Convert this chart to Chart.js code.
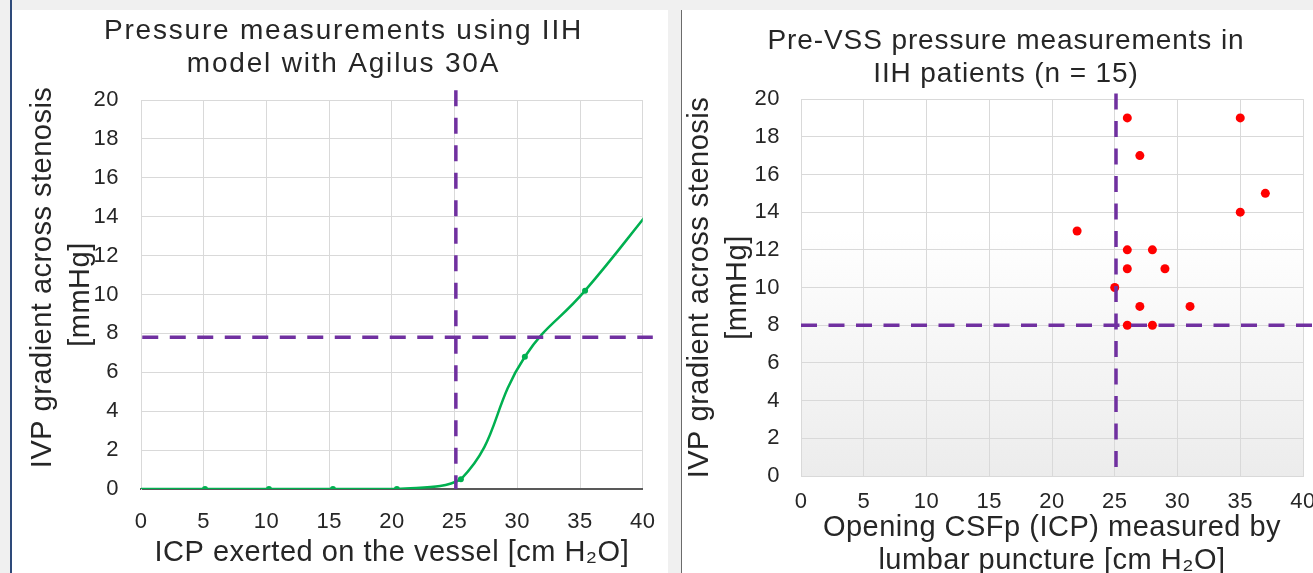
<!DOCTYPE html>
<html>
<head>
<meta charset="utf-8">
<script src="https://cdn.jsdelivr.net/npm/chart.js@4.4.1/dist/chart.umd.min.js"></script>
<style>
html, body { margin: 0; padding: 0; }
body { width: 1313px; height: 573px; overflow: hidden; background: #f0f0f0; position: relative; }
#edge { position: absolute; left: 10px; top: 0; width: 2px; height: 573px; background: #2e4a7a; }
#panelLeft { position: absolute; left: 12px; top: 10px; width: 656px; height: 563px; background: #fff; }
#sep { position: absolute; left: 681px; top: 10px; width: 1px; height: 563px; background: #6b6b6b; }
#panelRight { position: absolute; left: 682px; top: 10px; width: 631px; height: 563px; background: #fff; }
canvas { position: absolute; }
#chartModel { left: 12px; top: 10px; }
#chartPatients { left: 681px; top: 10px; }
</style>
</head>
<body>
<div id="edge"></div>
<div id="panelLeft"></div>
<div id="sep"></div>
<div id="panelRight"></div>
<canvas id="chartModel" width="663" height="563"></canvas>
<canvas id="chartPatients" width="650" height="570"></canvas>
<script>
// axis ticks (both charts)
const icpTicks = [0, 5, 10, 15, 20, 25, 30, 35, 40];
const gradientTicks = [0, 2, 4, 6, 8, 10, 12, 14, 16, 18, 20];

// IIH model with Agilus 30A
const modelIcp = [0, 5.1, 10.2, 15.3, 20.4, 25.5, 30.6, 35.4, 40.8];
const modelGradient = [0, 0, 0, 0, 0, 0.5, 6.8, 10.2, 14.5];
const modelIcpLimit = [25.1, 25.1];
const modelIcpLimitSpan = [20.5, 0];
const modelGradientLimit = [7.8, 7.8];
const modelGradientLimitSpan = [0.1, 40.8];

// pre-VSS patients (n = 15)
const patientIcp = [26, 35, 27, 37, 35, 22, 26, 28, 26, 29, 25, 27, 31, 26, 28];
const patientGradient = [19, 19, 17, 15, 14, 13, 12, 12, 11, 11, 10, 9, 9, 8, 8];
const patientIcpLimit = [25.1, 25.1];
const patientIcpLimitSpan = [20.3, 0.4];
const patientGradientLimit = [8, 8];
const patientGradientLimitSpan = [0, 41.2];

Chart.defaults.font.family = '"Liberation Sans", Arial, sans-serif';

var textColor = "#262626";
var gridColor = "#d9d9d9";
var limitColor = "#7030a0";

function zip(xs, ys)
{
	return xs.map(function(x, i) { return { x: x, y: ys[i] }; });
}

function limitLine(points)
{
	return {
		type: "line",
		data: points,
		borderColor: limitColor,
		borderWidth: 3.5,
		borderDash: [16, 11.5],
		pointRadius: 0,
		fill: false,
		clip: false,
		yAxisID: "y"
	};
}

// the original text is a little wider than Liberation Sans, so space it out
var textSpacing = {
	id: "textSpacing",
	afterInit: function(chart, args, opts)
	{
		var block = chart.titleBlock;
		var draw = block.draw;
		block.draw = function()
		{
			chart.ctx.letterSpacing = opts.title + "px";
			draw.apply(this, arguments);
			chart.ctx.letterSpacing = opts.text + "px";
		};
	},
	beforeDraw: function(chart, args, opts)
	{
		chart.ctx.letterSpacing = opts.text + "px";
	}
};

function buildOptions(cfg)
{
	return {
		responsive: false,
		animation: false,
		events: [],
		layout: { padding: 0 },
		plugins: {
			legend: { display: false },
			tooltip: { enabled: false },
			textSpacing: { text: 0.5, title: cfg.titleSpacing },
			title: {
				display: true,
				text: cfg.title,
				color: textColor,
				font: { size: 28, weight: "normal", lineHeight: 1.18 },
				padding: { top: cfg.titleTop, bottom: cfg.titleBottom }
			}
		},
		scales: {
			x: {
				type: "linear",
				min: 0,
				max: 40,
				afterBuildTicks: function(scale) { scale.ticks = icpTicks.map(function(v) { return { value: v }; }); },
				afterFit: function(scale) { scale.height = cfg.xHeight; },
				ticks: { autoSkip: false, maxRotation: 0, padding: cfg.xTickPad, color: textColor, font: { size: 22 } },
				grid: { color: gridColor, drawTicks: false },
				border: { color: cfg.xBorder, width: cfg.xBorderWidth },
				title: {
					display: true,
					text: cfg.xTitle,
					color: textColor,
					font: { size: 29, lineHeight: cfg.xTitleLine },
					padding: { top: 0, bottom: cfg.xTitleBottom }
				}
			},
			y: {
				type: "linear",
				position: "left",
				min: 0,
				max: 20,
				afterBuildTicks: function(scale) { scale.ticks = gradientTicks.map(function(v) { return { value: v }; }); },
				afterFit: function(scale) { scale.width = cfg.yWidth; },
				ticks: { autoSkip: false, padding: cfg.yTickPad, color: textColor, font: { size: 22 } },
				grid: { color: gridColor, drawTicks: false },
				border: { color: gridColor, width: 1 },
				title: {
					display: true,
					text: cfg.yTitle,
					color: textColor,
					font: { size: 29, lineHeight: 1.31 },
					padding: { top: cfg.yTitleTop, bottom: 0 }
				}
			},
			spare: {
				type: "linear",
				position: "right",
				display: true,
				ticks: { display: false },
				grid: { display: false },
				border: { display: false },
				afterFit: function(scale) { scale.width = cfg.rightGap; }
			}
		}
	};
}

var plotShade = {
	id: "plotShade",
	beforeDraw: function(chart)
	{
		var a = chart.chartArea;
		var ctx = chart.ctx;
		var g = ctx.createLinearGradient(0, a.top, 0, a.bottom);
		g.addColorStop(0, "#ffffff");
		g.addColorStop(0.35, "#ffffff");
		g.addColorStop(1, "#ececec");
		ctx.save();
		ctx.fillStyle = g;
		ctx.fillRect(a.left, a.top, a.right - a.left, a.bottom - a.top);
		ctx.restore();
	}
};

new Chart(document.getElementById("chartModel"), {
	type: "line",
	data: {
		datasets: [
			limitLine(zip(modelIcpLimit, modelIcpLimitSpan)),
			limitLine(zip(modelGradientLimitSpan, modelGradientLimit)),
			{
				type: "line",
				data: zip(modelIcp, modelGradient),
				borderColor: "#00b050",
				borderWidth: 2.5,
				backgroundColor: "#00b050",
				pointBackgroundColor: "#00b050",
				pointBorderWidth: 0,
				pointRadius: function(c) { var x = c.raw ? c.raw.x : 0; return (x <= 0 || x > 40) ? 0 : 3; },
				tension: 0.45,
				fill: false,
				yAxisID: "y"
			}
		]
	},
	options: buildOptions({
		title: ["Pressure measurements using IIH", "model with Agilus 30A"],
		titleSpacing: 1.8,
		titleTop: 4.5,
		titleBottom: 19.5,
		xTitle: "ICP exerted on the vessel [cm H\u2082O]",
		xTitleLine: 1.2,
		xTitleBottom: 2.6,
		xHeight: 84,
		xTickPad: 20,
		xBorder: "#595959",
		xBorderWidth: 2,
		yTitle: ["    IVP gradient across stenosis", "[mmHg]"],
		yWidth: 129,
		yTickPad: 22,
		yTitleTop: 12,
		rightGap: 32
	}),
	plugins: [textSpacing]
});

new Chart(document.getElementById("chartPatients"), {
	type: "scatter",
	data: {
		datasets: [
			limitLine(zip(patientIcpLimit, patientIcpLimitSpan)),
			limitLine(zip(patientGradientLimitSpan, patientGradientLimit)),
			{
				type: "scatter",
				data: zip(patientIcp, patientGradient),
				backgroundColor: "#ff0000",
				pointBackgroundColor: "#ff0000",
				pointBorderWidth: 0,
				pointRadius: 4.5,
				yAxisID: "y"
			}
		]
	},
	options: buildOptions({
		title: ["Pre-VSS pressure measurements in", "IIH patients (n = 15)"],
		titleSpacing: 0.9,
		titleTop: 14.5,
		titleBottom: 8.5,
		xTitle: ["Opening CSFp (ICP) measured by", "lumbar puncture [cm H\u2082O]"],
		xTitleLine: 1.14,
		xTitleBottom: 2.5,
		xHeight: 104,
		xTickPad: 13,
		xBorder: gridColor,
		xBorderWidth: 1,
		yTitle: ["IVP gradient across stenosis", "[mmHg]"],
		yWidth: 120,
		yTickPad: 21,
		yTitleTop: 0,
		rightGap: 28
	}),
	plugins: [textSpacing, plotShade]
});
</script>
</body>
</html>
